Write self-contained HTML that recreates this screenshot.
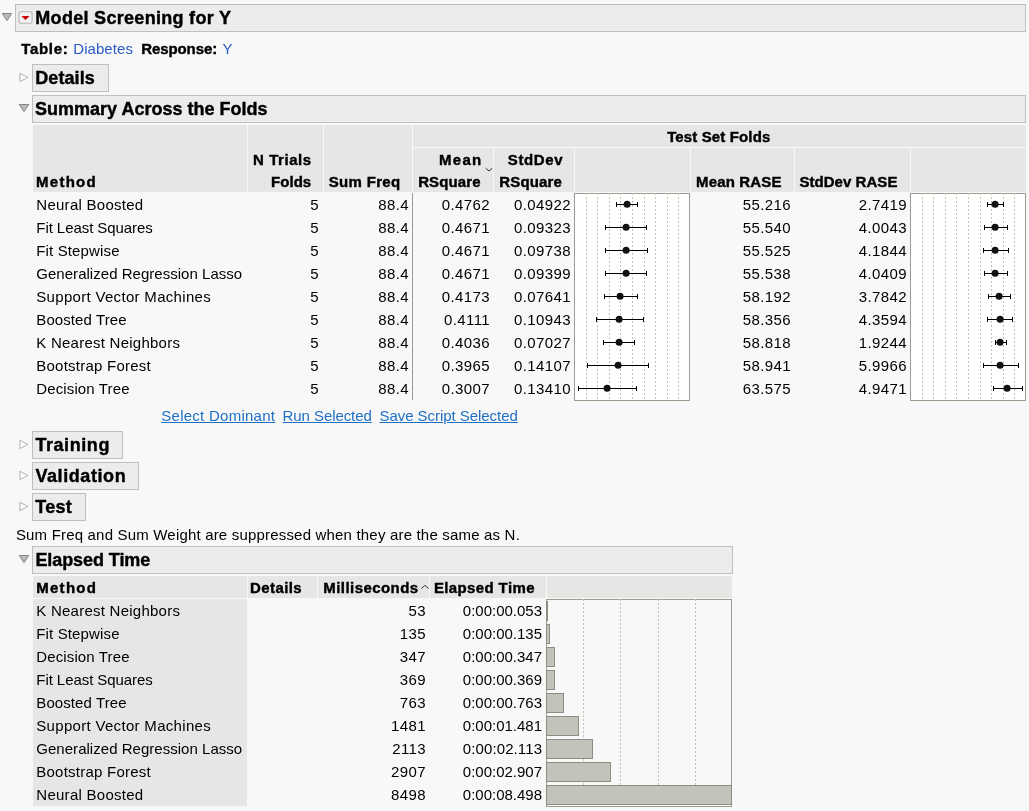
<!DOCTYPE html>
<html lang="en"><head><meta charset="utf-8"><title>Model Screening for Y</title>
<style>

html,body{margin:0;padding:0}
body{width:1029px;height:811px;background:#f8f8f8;position:relative;overflow:hidden;font-family:'Liberation Sans', Arial, sans-serif;font-size:15px;color:#000}
.t{position:absolute;white-space:pre;line-height:0;height:0}
.b{font-weight:bold;-webkit-text-stroke:0.4px #000}
.h{font-size:18px;font-weight:bold;-webkit-text-stroke:0.4px #000}
.lk{color:#2a5cc6}
.ul{color:#1f6fc4;text-decoration:underline;text-decoration-thickness:1px;text-underline-offset:1.2px}
.box{position:absolute;box-sizing:border-box;background:#ececec;border:1px solid #bfbfbf}
.r{position:absolute}
svg{position:absolute;left:0;top:0}

</style></head><body>
<div class="box" style="left:15px;top:4px;width:1011px;height:28px"></div>
<div class="box" style="left:32px;top:64px;width:77px;height:28px"></div>
<div class="box" style="left:32px;top:95px;width:994px;height:28px"></div>
<div class="box" style="left:32px;top:431px;width:91px;height:28px"></div>
<div class="box" style="left:32px;top:462px;width:107px;height:28px"></div>
<div class="box" style="left:32px;top:493px;width:54px;height:28px"></div>
<div class="box" style="left:32px;top:546px;width:701px;height:28px"></div>
<div class="r" style="left:33px;top:125px;width:993px;height:67px;background:#e6e6e4"></div>
<div class="r" style="left:247px;top:125px;width:1px;height:67px;background:#f8f8f8"></div>
<div class="r" style="left:323px;top:125px;width:1px;height:67px;background:#f8f8f8"></div>
<div class="r" style="left:412px;top:125px;width:1px;height:67px;background:#f8f8f8"></div>
<div class="r" style="left:412px;top:147px;width:614px;height:1px;background:#f8f8f8"></div>
<div class="r" style="left:493px;top:148px;width:1px;height:44px;background:#f8f8f8"></div>
<div class="r" style="left:574px;top:148px;width:1px;height:44px;background:#f8f8f8"></div>
<div class="r" style="left:690px;top:148px;width:1px;height:44px;background:#f8f8f8"></div>
<div class="r" style="left:794px;top:148px;width:1px;height:44px;background:#f8f8f8"></div>
<div class="r" style="left:910px;top:148px;width:1px;height:44px;background:#f8f8f8"></div>
<div class="r" style="left:412px;top:193px;width:1px;height:207px;background:#9c9c8e"></div>
<div class="r" style="left:33px;top:576px;width:699px;height:22px;background:#e6e6e4"></div>
<div class="r" style="left:33px;top:599px;width:214px;height:207px;background:#e6e6e4"></div>
<div class="r" style="left:247px;top:576px;width:1px;height:22px;background:#f8f8f8"></div>
<div class="r" style="left:317px;top:576px;width:1px;height:22px;background:#f8f8f8"></div>
<div class="r" style="left:429px;top:576px;width:1px;height:22px;background:#f8f8f8"></div>
<div class="r" style="left:546px;top:576px;width:1px;height:22px;background:#f8f8f8"></div>
<svg width="1029" height="811" viewBox="0 0 1029 811" shape-rendering="crispEdges">
<rect x="574.5" y="193.5" width="115" height="207" fill="#fff" stroke="#9c9c8e"/>
<rect x="910.5" y="193.5" width="115" height="207" fill="#fff" stroke="#9c9c8e"/>
<line x1="586.5" y1="193" x2="586.5" y2="400" stroke="#c2c2b8" stroke-dasharray="2 2"/>
<line x1="597.5" y1="193" x2="597.5" y2="400" stroke="#c2c2b8" stroke-dasharray="2 2"/>
<line x1="609.5" y1="193" x2="609.5" y2="400" stroke="#c2c2b8" stroke-dasharray="2 2"/>
<line x1="620.5" y1="193" x2="620.5" y2="400" stroke="#c2c2b8" stroke-dasharray="2 2"/>
<line x1="632.5" y1="193" x2="632.5" y2="400" stroke="#c2c2b8" stroke-dasharray="2 2"/>
<line x1="644.5" y1="193" x2="644.5" y2="400" stroke="#c2c2b8" stroke-dasharray="2 2"/>
<line x1="655.5" y1="193" x2="655.5" y2="400" stroke="#c2c2b8" stroke-dasharray="2 2"/>
<line x1="667.5" y1="193" x2="667.5" y2="400" stroke="#c2c2b8" stroke-dasharray="2 2"/>
<line x1="678.5" y1="193" x2="678.5" y2="400" stroke="#c2c2b8" stroke-dasharray="2 2"/>
<line x1="922.5" y1="193" x2="922.5" y2="400" stroke="#c2c2b8" stroke-dasharray="2 2"/>
<line x1="933.5" y1="193" x2="933.5" y2="400" stroke="#c2c2b8" stroke-dasharray="2 2"/>
<line x1="945.5" y1="193" x2="945.5" y2="400" stroke="#c2c2b8" stroke-dasharray="2 2"/>
<line x1="956.5" y1="193" x2="956.5" y2="400" stroke="#c2c2b8" stroke-dasharray="2 2"/>
<line x1="968.5" y1="193" x2="968.5" y2="400" stroke="#c2c2b8" stroke-dasharray="2 2"/>
<line x1="980.5" y1="193" x2="980.5" y2="400" stroke="#c2c2b8" stroke-dasharray="2 2"/>
<line x1="991.5" y1="193" x2="991.5" y2="400" stroke="#c2c2b8" stroke-dasharray="2 2"/>
<line x1="1003.5" y1="193" x2="1003.5" y2="400" stroke="#c2c2b8" stroke-dasharray="2 2"/>
<line x1="1014.5" y1="193" x2="1014.5" y2="400" stroke="#c2c2b8" stroke-dasharray="2 2"/>
<path d="M616.5 204.5H637.5M616.5 202V207M637.5 202V207" stroke="#000" fill="none"/>
<circle cx="627.1" cy="204.3" r="3.5" fill="#111" shape-rendering="auto"/>
<path d="M605.5 227.5H646.5M605.5 225V230M646.5 225V230" stroke="#000" fill="none"/>
<circle cx="626.1" cy="227.3" r="3.5" fill="#111" shape-rendering="auto"/>
<path d="M605.5 250.5H647.5M605.5 248V253M647.5 248V253" stroke="#000" fill="none"/>
<circle cx="626.1" cy="250.3" r="3.5" fill="#111" shape-rendering="auto"/>
<path d="M605.5 273.5H646.5M605.5 271V276M646.5 271V276" stroke="#000" fill="none"/>
<circle cx="626.1" cy="273.3" r="3.5" fill="#111" shape-rendering="auto"/>
<path d="M604.5 296.5H637.5M604.5 294V299M637.5 294V299" stroke="#000" fill="none"/>
<circle cx="620.1" cy="296.3" r="3.5" fill="#111" shape-rendering="auto"/>
<path d="M596.5 319.5H643.5M596.5 317V322M643.5 317V322" stroke="#000" fill="none"/>
<circle cx="619.1" cy="319.3" r="3.5" fill="#111" shape-rendering="auto"/>
<path d="M603.5 342.5H634.5M603.5 340V345M634.5 340V345" stroke="#000" fill="none"/>
<circle cx="619.1" cy="342.3" r="3.5" fill="#111" shape-rendering="auto"/>
<path d="M587.5 365.5H648.5M587.5 363V368M648.5 363V368" stroke="#000" fill="none"/>
<circle cx="618.1" cy="365.3" r="3.5" fill="#111" shape-rendering="auto"/>
<path d="M578.5 388.5H636.5M578.5 386V391M636.5 386V391" stroke="#000" fill="none"/>
<circle cx="607.1" cy="388.3" r="3.5" fill="#111" shape-rendering="auto"/>
<path d="M987.5 204.5H1003.5M987.5 202V207M1003.5 202V207" stroke="#000" fill="none"/>
<circle cx="995.1" cy="204.3" r="3.5" fill="#111" shape-rendering="auto"/>
<path d="M984.5 227.5H1007.5M984.5 225V230M1007.5 225V230" stroke="#000" fill="none"/>
<circle cx="995.1" cy="227.3" r="3.5" fill="#111" shape-rendering="auto"/>
<path d="M983.5 250.5H1008.5M983.5 248V253M1008.5 248V253" stroke="#000" fill="none"/>
<circle cx="995.1" cy="250.3" r="3.5" fill="#111" shape-rendering="auto"/>
<path d="M984.5 273.5H1007.5M984.5 271V276M1007.5 271V276" stroke="#000" fill="none"/>
<circle cx="995.1" cy="273.3" r="3.5" fill="#111" shape-rendering="auto"/>
<path d="M988.5 296.5H1010.5M988.5 294V299M1010.5 294V299" stroke="#000" fill="none"/>
<circle cx="999.1" cy="296.3" r="3.5" fill="#111" shape-rendering="auto"/>
<path d="M987.5 319.5H1012.5M987.5 317V322M1012.5 317V322" stroke="#000" fill="none"/>
<circle cx="1000.1" cy="319.3" r="3.5" fill="#111" shape-rendering="auto"/>
<path d="M995.5 342.5H1006.5M995.5 340V345M1006.5 340V345" stroke="#000" fill="none"/>
<circle cx="1000.1" cy="342.3" r="3.5" fill="#111" shape-rendering="auto"/>
<path d="M983.5 365.5H1018.5M983.5 363V368M1018.5 363V368" stroke="#000" fill="none"/>
<circle cx="1000.1" cy="365.3" r="3.5" fill="#111" shape-rendering="auto"/>
<path d="M993.5 388.5H1022.5M993.5 386V391M1022.5 386V391" stroke="#000" fill="none"/>
<circle cx="1007.1" cy="388.3" r="3.5" fill="#111" shape-rendering="auto"/>
<rect x="546.5" y="599.5" width="185" height="207" fill="#f8f8f8" stroke="#9c9c8e"/>
<line x1="583.5" y1="599" x2="583.5" y2="806" stroke="#c2c2b8" stroke-dasharray="2 2"/>
<line x1="620.5" y1="599" x2="620.5" y2="806" stroke="#c2c2b8" stroke-dasharray="2 2"/>
<line x1="658.5" y1="599" x2="658.5" y2="806" stroke="#c2c2b8" stroke-dasharray="2 2"/>
<line x1="695.5" y1="599" x2="695.5" y2="806" stroke="#c2c2b8" stroke-dasharray="2 2"/>
<rect x="546.5" y="601.5" width="1" height="19" fill="#c3c3bb" stroke="#8e8e80"/>
<rect x="546.5" y="624.5" width="3" height="19" fill="#c3c3bb" stroke="#8e8e80"/>
<rect x="546.5" y="647.5" width="8" height="19" fill="#c3c3bb" stroke="#8e8e80"/>
<rect x="546.5" y="670.5" width="8" height="19" fill="#c3c3bb" stroke="#8e8e80"/>
<rect x="546.5" y="693.5" width="17" height="19" fill="#c3c3bb" stroke="#8e8e80"/>
<rect x="546.5" y="716.5" width="32" height="19" fill="#c3c3bb" stroke="#8e8e80"/>
<rect x="546.5" y="739.5" width="46" height="19" fill="#c3c3bb" stroke="#8e8e80"/>
<rect x="546.5" y="762.5" width="64" height="19" fill="#c3c3bb" stroke="#8e8e80"/>
<rect x="546.5" y="785.5" width="185" height="19" fill="#c3c3bb" stroke="#8e8e80"/>
<path d="M2.3 13.5h9.4L7 20.7z" fill="#bababa" stroke="#868686" stroke-width="1" stroke-linejoin="miter" shape-rendering="auto"/>
<path d="M19.3 104.5h9.4L24 111.7z" fill="#bababa" stroke="#868686" stroke-width="1" stroke-linejoin="miter" shape-rendering="auto"/>
<path d="M19.3 555.5h9.4L24 562.7z" fill="#bababa" stroke="#868686" stroke-width="1" stroke-linejoin="miter" shape-rendering="auto"/>
<path d="M19.9 73.3V81.6L28 77.45z" fill="#fdfdfd" stroke="#a8a8a8" stroke-width="0.9" shape-rendering="auto"/>
<path d="M19.9 440.3V448.6L28 444.45z" fill="#fdfdfd" stroke="#a8a8a8" stroke-width="0.9" shape-rendering="auto"/>
<path d="M19.9 471.3V479.6L28 475.45z" fill="#fdfdfd" stroke="#a8a8a8" stroke-width="0.9" shape-rendering="auto"/>
<path d="M19.9 502.3V510.6L28 506.45z" fill="#fdfdfd" stroke="#a8a8a8" stroke-width="0.9" shape-rendering="auto"/>
<rect x="19" y="11.7" width="13.1" height="11.7" rx="2.6" fill="#f1f1f1" stroke="#c0c0c0" stroke-width="1.3" shape-rendering="auto"/>
<defs><linearGradient id="rg" x1="0" x2="1" y1="0" y2="0"><stop offset="0" stop-color="#e80000"/><stop offset="1" stop-color="#b00000"/></linearGradient></defs>
<path d="M21.3 16h8.3l-4.15 4.1z" fill="url(#rg)" shape-rendering="auto"/>
<path d="M485.7 168.2L489 171L492.3 168.2" fill="none" stroke="#333" stroke-width="1" shape-rendering="auto"/>
<path d="M421.4 588.6L425 585.3L428.6 588.6" fill="none" stroke="#333" stroke-width="1" shape-rendering="auto"/>
</svg>
<span class="t h" style="left:35.30px;top:17.76px;letter-spacing:0.300px">Model Screening for Y</span>
<span class="t b" style="left:21.30px;top:49.40px;letter-spacing:0.668px">Table:</span>
<a class="t lk" style="left:73.30px;top:49.40px;letter-spacing:0.057px">Diabetes</a>
<span class="t b" style="left:141.20px;top:49.40px;letter-spacing:-0.086px">Response:</span>
<a class="t lk" style="left:222.50px;top:49.40px">Y</a>
<span class="t h" style="left:35.30px;top:77.76px;letter-spacing:0.078px">Details</span>
<span class="t h" style="left:35.10px;top:108.76px">Summary Across the Folds</span>
<span class="t b" style="left:36.00px;top:181.80px;letter-spacing:1.274px">Method</span>
<span class="t b" style="left:253.00px;top:159.80px;letter-spacing:0.571px">N Trials</span>
<span class="t b" style="left:271.10px;top:181.80px;letter-spacing:0.025px">Folds</span>
<span class="t b" style="left:328.80px;top:181.80px;letter-spacing:0.316px">Sum Freq</span>
<span class="t b" style="left:439.10px;top:159.80px;letter-spacing:1.252px">Mean</span>
<span class="t b" style="left:418.20px;top:181.80px;letter-spacing:0.102px">RSquare</span>
<span class="t b" style="left:507.80px;top:159.80px;letter-spacing:0.603px">StdDev</span>
<span class="t b" style="left:499.30px;top:181.80px;letter-spacing:0.135px">RSquare</span>
<span class="t b" style="left:667.20px;top:136.60px;letter-spacing:0.130px">Test Set Folds</span>
<span class="t b" style="left:696.10px;top:181.80px;letter-spacing:0.152px">Mean RASE</span>
<span class="t b" style="left:799.40px;top:181.80px;letter-spacing:0.047px">StdDev RASE</span>
<span class="t" style="left:36.30px;top:204.80px;letter-spacing:0.269px">Neural Boosted</span>
<span class="t" style="left:310.36px;top:204.80px;letter-spacing:0.400px">5</span>
<span class="t" style="left:378.30px;top:204.80px;letter-spacing:0.400px">88.4</span>
<span class="t" style="left:441.81px;top:204.80px;letter-spacing:0.400px">0.4762</span>
<span class="t" style="left:514.07px;top:204.80px;letter-spacing:0.400px">0.04922</span>
<span class="t" style="left:742.81px;top:204.80px;letter-spacing:0.400px">55.216</span>
<span class="t" style="left:858.81px;top:204.80px;letter-spacing:0.400px">2.7419</span>
<span class="t" style="left:36.30px;top:227.80px;letter-spacing:-0.066px">Fit Least Squares</span>
<span class="t" style="left:310.36px;top:227.80px;letter-spacing:0.400px">5</span>
<span class="t" style="left:378.30px;top:227.80px;letter-spacing:0.400px">88.4</span>
<span class="t" style="left:441.81px;top:227.80px;letter-spacing:0.400px">0.4671</span>
<span class="t" style="left:514.07px;top:227.80px;letter-spacing:0.400px">0.09323</span>
<span class="t" style="left:742.81px;top:227.80px;letter-spacing:0.400px">55.540</span>
<span class="t" style="left:858.81px;top:227.80px;letter-spacing:0.400px">4.0043</span>
<span class="t" style="left:36.30px;top:250.80px;letter-spacing:0.136px">Fit Stepwise</span>
<span class="t" style="left:310.36px;top:250.80px;letter-spacing:0.400px">5</span>
<span class="t" style="left:378.30px;top:250.80px;letter-spacing:0.400px">88.4</span>
<span class="t" style="left:441.81px;top:250.80px;letter-spacing:0.400px">0.4671</span>
<span class="t" style="left:514.07px;top:250.80px;letter-spacing:0.400px">0.09738</span>
<span class="t" style="left:742.81px;top:250.80px;letter-spacing:0.400px">55.525</span>
<span class="t" style="left:858.81px;top:250.80px;letter-spacing:0.400px">4.1844</span>
<span class="t" style="left:36.30px;top:273.80px;letter-spacing:0.029px">Generalized Regression Lasso</span>
<span class="t" style="left:310.36px;top:273.80px;letter-spacing:0.400px">5</span>
<span class="t" style="left:378.30px;top:273.80px;letter-spacing:0.400px">88.4</span>
<span class="t" style="left:441.81px;top:273.80px;letter-spacing:0.400px">0.4671</span>
<span class="t" style="left:514.07px;top:273.80px;letter-spacing:0.400px">0.09399</span>
<span class="t" style="left:742.81px;top:273.80px;letter-spacing:0.400px">55.538</span>
<span class="t" style="left:858.81px;top:273.80px;letter-spacing:0.400px">4.0409</span>
<span class="t" style="left:36.30px;top:296.80px;letter-spacing:0.309px">Support Vector Machines</span>
<span class="t" style="left:310.36px;top:296.80px;letter-spacing:0.400px">5</span>
<span class="t" style="left:378.30px;top:296.80px;letter-spacing:0.400px">88.4</span>
<span class="t" style="left:441.81px;top:296.80px;letter-spacing:0.400px">0.4173</span>
<span class="t" style="left:514.07px;top:296.80px;letter-spacing:0.400px">0.07641</span>
<span class="t" style="left:742.81px;top:296.80px;letter-spacing:0.400px">58.192</span>
<span class="t" style="left:858.81px;top:296.80px;letter-spacing:0.400px">3.7842</span>
<span class="t" style="left:36.30px;top:319.80px;letter-spacing:0.088px">Boosted Tree</span>
<span class="t" style="left:310.36px;top:319.80px;letter-spacing:0.400px">5</span>
<span class="t" style="left:378.30px;top:319.80px;letter-spacing:0.400px">88.4</span>
<span class="t" style="left:444.04px;top:319.80px;letter-spacing:0.400px">0.4111</span>
<span class="t" style="left:514.07px;top:319.80px;letter-spacing:0.400px">0.10943</span>
<span class="t" style="left:742.81px;top:319.80px;letter-spacing:0.400px">58.356</span>
<span class="t" style="left:858.81px;top:319.80px;letter-spacing:0.400px">4.3594</span>
<span class="t" style="left:36.30px;top:342.80px;letter-spacing:0.243px">K Nearest Neighbors</span>
<span class="t" style="left:310.36px;top:342.80px;letter-spacing:0.400px">5</span>
<span class="t" style="left:378.30px;top:342.80px;letter-spacing:0.400px">88.4</span>
<span class="t" style="left:441.81px;top:342.80px;letter-spacing:0.400px">0.4036</span>
<span class="t" style="left:514.07px;top:342.80px;letter-spacing:0.400px">0.07027</span>
<span class="t" style="left:742.81px;top:342.80px;letter-spacing:0.400px">58.818</span>
<span class="t" style="left:858.81px;top:342.80px;letter-spacing:0.400px">1.9244</span>
<span class="t" style="left:36.30px;top:365.80px;letter-spacing:0.234px">Bootstrap Forest</span>
<span class="t" style="left:310.36px;top:365.80px;letter-spacing:0.400px">5</span>
<span class="t" style="left:378.30px;top:365.80px;letter-spacing:0.400px">88.4</span>
<span class="t" style="left:441.81px;top:365.80px;letter-spacing:0.400px">0.3965</span>
<span class="t" style="left:514.07px;top:365.80px;letter-spacing:0.400px">0.14107</span>
<span class="t" style="left:742.81px;top:365.80px;letter-spacing:0.400px">58.941</span>
<span class="t" style="left:858.81px;top:365.80px;letter-spacing:0.400px">5.9966</span>
<span class="t" style="left:36.30px;top:388.80px;letter-spacing:0.123px">Decision Tree</span>
<span class="t" style="left:310.36px;top:388.80px;letter-spacing:0.400px">5</span>
<span class="t" style="left:378.30px;top:388.80px;letter-spacing:0.400px">88.4</span>
<span class="t" style="left:441.81px;top:388.80px;letter-spacing:0.400px">0.3007</span>
<span class="t" style="left:514.07px;top:388.80px;letter-spacing:0.400px">0.13410</span>
<span class="t" style="left:742.81px;top:388.80px;letter-spacing:0.400px">63.575</span>
<span class="t" style="left:858.81px;top:388.80px;letter-spacing:0.400px">4.9471</span>
<a class="t ul" style="left:161.30px;top:416.30px;letter-spacing:0.260px">Select Dominant</a>
<a class="t ul" style="left:282.60px;top:416.30px;letter-spacing:-0.078px">Run Selected</a>
<a class="t ul" style="left:379.50px;top:416.30px;letter-spacing:-0.050px">Save Script Selected</a>
<span class="t h" style="left:35.40px;top:444.76px;letter-spacing:0.569px">Training</span>
<span class="t h" style="left:35.40px;top:475.76px;letter-spacing:0.585px">Validation</span>
<span class="t h" style="left:35.30px;top:506.76px;letter-spacing:0.238px">Test</span>
<span class="t" style="left:15.90px;top:534.80px;letter-spacing:0.186px">Sum Freq and Sum Weight are suppressed when they are the same as N.</span>
<span class="t h" style="left:35.40px;top:559.76px;letter-spacing:-0.074px">Elapsed Time</span>
<span class="t b" style="left:36.20px;top:587.60px;letter-spacing:1.294px">Method</span>
<span class="t b" style="left:250.10px;top:587.60px;letter-spacing:0.399px">Details</span>
<span class="t b" style="left:323.30px;top:587.60px;letter-spacing:0.434px">Milliseconds</span>
<span class="t b" style="left:433.90px;top:587.60px;letter-spacing:0.378px">Elapsed Time</span>
<span class="t" style="left:36.30px;top:610.80px;letter-spacing:0.243px">K Nearest Neighbors</span>
<span class="t" style="left:408.61px;top:610.80px;letter-spacing:0.400px">53</span>
<span class="t" style="left:462.80px;top:610.80px">0:00:00.053</span>
<span class="t" style="left:36.30px;top:633.80px;letter-spacing:0.136px">Fit Stepwise</span>
<span class="t" style="left:399.87px;top:633.80px;letter-spacing:0.400px">135</span>
<span class="t" style="left:462.80px;top:633.80px">0:00:00.135</span>
<span class="t" style="left:36.30px;top:656.80px;letter-spacing:0.123px">Decision Tree</span>
<span class="t" style="left:399.87px;top:656.80px;letter-spacing:0.400px">347</span>
<span class="t" style="left:462.80px;top:656.80px">0:00:00.347</span>
<span class="t" style="left:36.30px;top:679.80px;letter-spacing:-0.066px">Fit Least Squares</span>
<span class="t" style="left:399.87px;top:679.80px;letter-spacing:0.400px">369</span>
<span class="t" style="left:462.80px;top:679.80px">0:00:00.369</span>
<span class="t" style="left:36.30px;top:702.80px;letter-spacing:0.088px">Boosted Tree</span>
<span class="t" style="left:399.87px;top:702.80px;letter-spacing:0.400px">763</span>
<span class="t" style="left:462.80px;top:702.80px">0:00:00.763</span>
<span class="t" style="left:36.30px;top:725.80px;letter-spacing:0.309px">Support Vector Machines</span>
<span class="t" style="left:391.12px;top:725.80px;letter-spacing:0.400px">1481</span>
<span class="t" style="left:462.80px;top:725.80px">0:00:01.481</span>
<span class="t" style="left:36.30px;top:748.80px;letter-spacing:0.029px">Generalized Regression Lasso</span>
<span class="t" style="left:392.23px;top:748.80px;letter-spacing:0.400px">2113</span>
<span class="t" style="left:462.80px;top:748.80px;letter-spacing:0.106px">0:00:02.113</span>
<span class="t" style="left:36.30px;top:771.80px;letter-spacing:0.234px">Bootstrap Forest</span>
<span class="t" style="left:391.12px;top:771.80px;letter-spacing:0.400px">2907</span>
<span class="t" style="left:462.80px;top:771.80px">0:00:02.907</span>
<span class="t" style="left:36.30px;top:794.80px;letter-spacing:0.269px">Neural Boosted</span>
<span class="t" style="left:391.12px;top:794.80px;letter-spacing:0.400px">8498</span>
<span class="t" style="left:462.80px;top:794.80px">0:00:08.498</span>
</body></html>
